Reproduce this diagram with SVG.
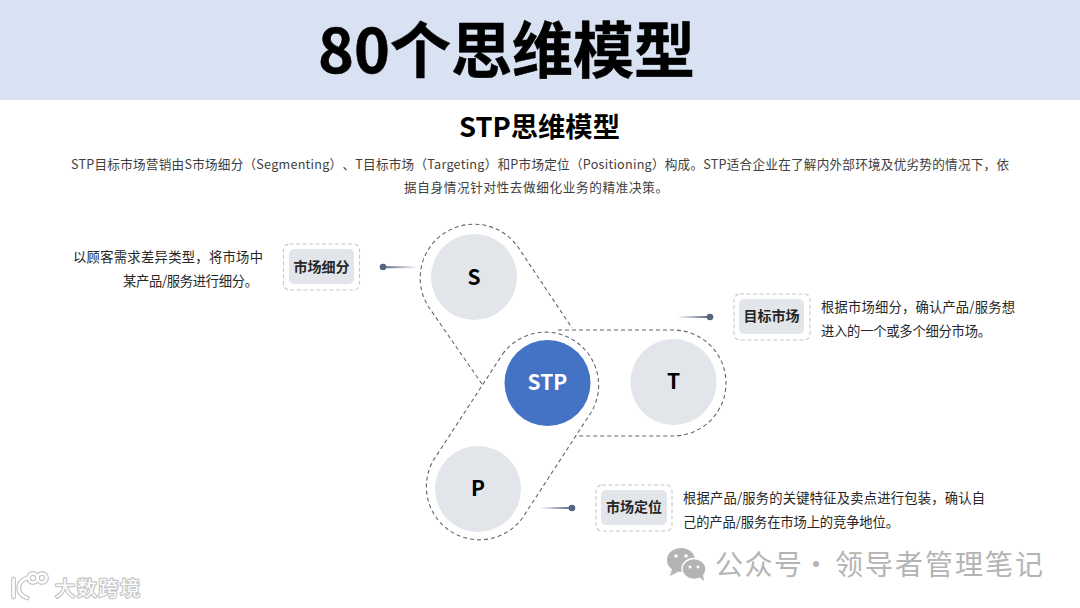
<svg xmlns="http://www.w3.org/2000/svg" width="1080" height="608" viewBox="0 0 1080 608">
<style>
text{font-family:"Noto Sans CJK SC","Microsoft YaHei","Noto Sans",sans-serif;text-spacing-trim:space-all}
.body{font-size:12.600px;fill:#404040}
.desc{font-size:13.300px;fill:#262626}
.lab{font-size:14px;font-weight:700;fill:#262626;text-anchor:middle}
.let{font-size:21px;font-weight:700;fill:#000;text-anchor:middle}
.dash{fill:none;stroke:#5f6672;stroke-width:1.100;stroke-dasharray:4 3}
.od{fill:#fff;stroke:#c4c7cc;stroke-width:1.100;stroke-dasharray:4 2.500}
.inner{fill:#e2e5e9}
.dot{fill:#55647f}
.wm{font-size:28px;fill:#b4b4b4;letter-spacing:1.500px}
.wm2{font-size:20px;font-weight:400;fill:#fff;stroke:#c8c8c8;stroke-width:2.600px;paint-order:stroke;stroke-linejoin:round}
</style>
<defs>
<linearGradient id="fl" x1="0" x2="1" y1="0" y2="0"><stop offset="0" stop-color="#55647f"/><stop offset="1" stop-color="#55647f" stop-opacity="0"/></linearGradient>
<linearGradient id="fr" x1="0" x2="1" y1="0" y2="0"><stop offset="0" stop-color="#55647f" stop-opacity="0"/><stop offset="1" stop-color="#55647f"/></linearGradient>
</defs>
<rect width="1080" height="608" fill="#fff"/>
<rect width="1080" height="100" fill="#d9e2f3"/>
<text x="318" y="73" font-size="61" font-weight="700" fill="#000" stroke="#000" stroke-width="0.500" textLength="377" lengthAdjust="spacingAndGlyphs">80个思维模型</text>
<text x="539.500" y="137" font-size="27.300" font-weight="700" fill="#000" text-anchor="middle">STP思维模型</text>
<text class="body" x="71" y="169" textLength="938">STP目标市场营销由S市场细分（Segmenting）、T目标市场（Targeting）和P市场定位（Positioning）构成。STP适合企业在了解内外部环境及优劣势的情况下，依</text>
<text class="body" x="404" y="192" textLength="264">据自身情况针对性去做细化业务的精准决策。</text>
<g id="connectors">
<path class="dash" d="M482 384L430 309A53.800 53.800 0 0 1 518 247L572 328"/>
<path class="dash" d="M558 330H673A53 53 0 0 1 673 436H575"/>
<path class="dash" d="M502.600 354A53.100 53.100 0 0 1 591.400 412L522.400 518A53.100 53.100 0 0 1 433.600 460Z"/>
<rect x="383" y="266.200" width="35" height="2" fill="url(#fl)"/>
<circle class="dot" cx="383" cy="267" r="3.300"/>
<rect x="677" y="316" width="33" height="2" fill="url(#fr)"/>
<circle class="dot" cx="710" cy="317" r="3.300"/>
<rect x="540" y="507" width="32" height="2" fill="url(#fr)"/>
<circle class="dot" cx="572" cy="508" r="3.300"/>
</g>
<g id="node-s"><circle cx="474" cy="277" r="43" fill="#e2e5e9"/><text class="let" x="474" y="285">S</text></g>
<g id="node-stp"><circle cx="547.500" cy="383" r="43" fill="#4472c4"/><text x="547.500" y="390" font-size="21" font-weight="700" fill="#fff" text-anchor="middle">STP</text></g>
<g id="node-t"><circle cx="673.500" cy="382" r="43" fill="#e2e5e9"/><text class="let" x="673.500" y="389">T</text></g>
<g id="node-p"><circle cx="478" cy="489" r="43" fill="#e2e5e9"/><text class="let" x="478" y="496">P</text></g>
<g id="label-s">
<rect class="od" x="283.500" y="244" width="76" height="46" rx="6"/><rect class="inner" x="289" y="249" width="65" height="35" rx="5"/>
<text class="lab" x="321.500" y="271.500">市场细分</text>
<text class="desc" x="73" y="262" textLength="190">以顾客需求差异类型，将市场中</text>
<text class="desc" x="123" y="286" textLength="135">某产品/服务进行细分。</text>
</g>
<g id="label-t">
<rect class="od" x="734" y="294" width="76" height="46" rx="6"/><rect class="inner" x="739" y="299" width="65" height="35" rx="5"/>
<text class="lab" x="771.500" y="321">目标市场</text>
<text class="desc" x="821" y="312" textLength="194">根据市场细分，确认产品/服务想</text>
<text class="desc" x="821" y="336" textLength="170">进入的一个或多个细分市场。</text>
</g>
<g id="label-p">
<rect class="od" x="596" y="485" width="76" height="46" rx="6"/><rect class="inner" x="601" y="490" width="66" height="35" rx="5"/>
<text class="lab" x="634" y="512">市场定位</text>
<text class="desc" x="683" y="503" textLength="302">根据产品/服务的关键特征及卖点进行包装，确认自</text>
<text class="desc" x="683" y="527" textLength="216">己的产品/服务在市场上的竞争地位。</text>
</g>
<g id="watermark">
<ellipse cx="681" cy="560" rx="14" ry="12" fill="#b4b4b4"/><path d="M672 569l-2 7 8-4z" fill="#b4b4b4"/>
<ellipse cx="694" cy="569" rx="12" ry="10.500" fill="#b4b4b4" stroke="#fff" stroke-width="1.500"/><path d="M699 577l5 4-1-7z" fill="#b4b4b4"/>
<circle cx="676" cy="556" r="1.800" fill="#fff"/><circle cx="686" cy="556" r="1.800" fill="#fff"/><circle cx="690" cy="567" r="1.500" fill="#fff"/><circle cx="698" cy="567" r="1.500" fill="#fff"/>
<text class="wm" y="575"><tspan x="715">公众号</tspan><tspan x="802">·</tspan><tspan x="835" letter-spacing="2">领导者管理笔记</tspan></text>
<g fill="none" stroke="#c8c8c8" stroke-width="5" stroke-linecap="round"><path d="M13.500 579V597M27 578C16 582 16 594 27 598"/><circle cx="33" cy="578" r="4.500"/><circle cx="42" cy="578" r="4.500"/></g>
<g fill="none" stroke="#fff" stroke-width="2.500" stroke-linecap="round"><path d="M13.500 579V597M27 578C16 582 16 594 27 598"/><circle cx="33" cy="578" r="4.500"/><circle cx="42" cy="578" r="4.500"/></g>
<text class="wm2" x="55" y="596" textLength="85">大数跨境</text>
</g>
</svg>
